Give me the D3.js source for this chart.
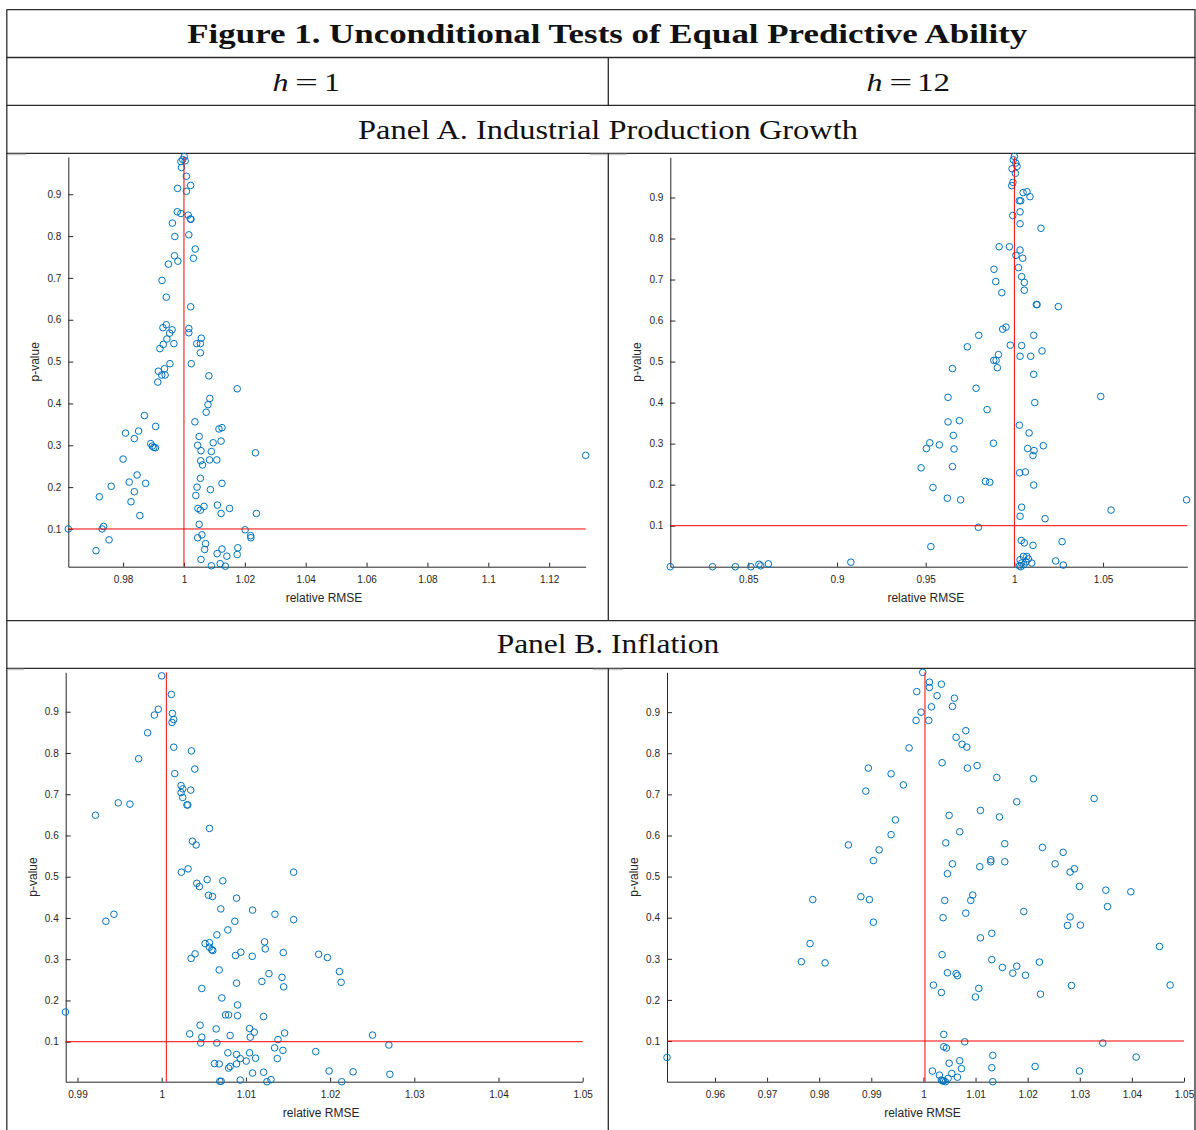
<!DOCTYPE html>
<html>
<head>
<meta charset="utf-8">
<script src="https://cdn.jsdelivr.net/npm/d3@7"></script>
<style>
  body { margin: 0; background: #fff; }
  .tick text { font-family: "Liberation Sans", Arial, sans-serif; font-size: 10px; fill: #262626; }
</style>
</head>
<body>
<svg id="chart" width="1196" height="1130"></svg>
<script>
// [relative RMSE, p-value]
const ipH1 = [
  [1.0001,0.99],[0.9996,0.983],[0.999,0.978],[1.0004,0.980],[0.9992,0.964],[1.0008,0.943],[1.0022,0.921],
  [0.9979,0.914],[1.0008,0.907],[0.9978,0.858],[0.999,0.854],[1.0014,0.850],[1.0021,0.841],[1.0023,0.840],
  [0.9962,0.831],[0.997,0.799],[1.0016,0.803],[1.0037,0.769],[0.9969,0.753],[1.0031,0.747],[0.998,0.740],
  [0.9949,0.733],[0.9928,0.694],[0.9942,0.654],[1.0022,0.631],[0.9931,0.581],[0.9942,0.588],[0.9961,0.576],
  [0.9953,0.568],[0.9944,0.554],[0.9967,0.543],[0.9932,0.541],[0.9921,0.531],[1.0016,0.579],[1.0016,0.569],
  [1.0057,0.556],[1.0042,0.543],[1.0054,0.543],[1.0054,0.521],[1.0024,0.495],[0.9954,0.495],[0.9916,0.477],
  [0.9936,0.483],[0.9927,0.468],[0.9938,0.468],[0.9914,0.451],[1.0082,0.466],[1.0175,0.435],[1.0085,0.412],
  [1.0079,0.397],[1.0073,0.379],[0.987,0.371],[0.9907,0.345],[1.0036,0.356],[1.0115,0.339],[1.0125,0.342],
  [0.9808,0.329],[0.9851,0.334],[0.9837,0.316],[1.005,0.321],[0.9891,0.304],[0.9896,0.298],[0.9906,0.294],
  [0.9901,0.295],[1.0045,0.300],[1.0056,0.287],[1.0096,0.306],[1.0122,0.310],[1.009,0.285],[1.0235,0.282],
  [0.98,0.267],[1.0055,0.263],[1.0084,0.265],[1.0108,0.265],[1.0061,0.253],[0.9846,0.229],[1.0054,0.221],
  [0.982,0.212],[0.9874,0.209],[1.0125,0.209],[0.9761,0.202],[1.0043,0.200],[1.0087,0.194],[0.9837,0.189],
  [0.9722,0.177],[1.0039,0.180],[0.9826,0.165],[1.011,0.157],[1.0066,0.154],[1.0046,0.149],[1.0054,0.145],
  [1.015,0.149],[1.0122,0.137],[1.0238,0.137],[0.9855,0.132],[0.9736,0.106],[0.9731,0.100],[0.962,0.100],
  [1.005,0.111],[1.0201,0.098],[1.0219,0.084],[1.022,0.079],[1.0059,0.086],[1.0045,0.079],[0.9754,0.074],
  [1.0071,0.065],[1.0068,0.051],[0.9711,0.048],[1.0125,0.052],[1.0177,0.055],[1.0109,0.041],[1.0175,0.039],
  [1.0141,0.035],[1.0056,0.027],[1.009,0.012],[1.0119,0.017],[1.0136,0.011],[1.132,0.276]
];

const ipH12 = [
  [0.806,0],[0.8298,0],[0.8427,0],[0.8514,0],[0.856,0.006],[0.857,0.002],[0.8613,0.007],[0.9078,0.011],
  [1.0,1.0],[0.9994,0.992],[1.0008,0.984],[0.9987,0.970],[1.0015,0.976],[1.0006,0.959],[0.9992,0.937],
  [0.9985,0.929],[1.0049,0.912],[1.0071,0.914],[1.0088,0.902],[1.0028,0.892],[1.0036,0.892],[1.0032,0.865],
  [0.9991,0.856],[1.0032,0.836],[1.015,0.825],[0.9914,0.780],[0.9972,0.780],[1.0032,0.772],[1.0009,0.759],
  [1.0047,0.752],[0.9885,0.725],[1.0023,0.729],[1.0041,0.707],[0.9895,0.695],[1.0056,0.693],[1.0056,0.674],
  [0.9929,0.668],[1.0124,0.639],[1.0128,0.639],[1.0248,0.634],[0.9934,0.579],[0.9953,0.584],[0.9799,0.564],
  [1.0109,0.564],[0.9735,0.536],[0.9977,0.540],[1.0041,0.539],[1.0156,0.526],[0.991,0.517],[1.0032,0.513],
  [1.0092,0.513],[0.9884,0.503],[0.9897,0.503],[0.9904,0.485],[0.9651,0.483],[1.0109,0.469],[0.9784,0.435],
  [0.9626,0.413],[1.0487,0.415],[1.0115,0.400],[0.9846,0.383],[0.9626,0.353],[0.969,0.356],[1.0028,0.345],
  [1.0083,0.326],[0.9656,0.320],[0.9523,0.302],[0.9504,0.288],[0.9577,0.297],[0.9882,0.301],[0.966,0.287],
  [1.0163,0.295],[1.0075,0.288],[1.0111,0.283],[1.0105,0.271],[0.9474,0.241],[0.9651,0.244],[1.003,0.229],
  [1.0062,0.231],[0.9837,0.208],[0.9861,0.206],[1.0109,0.199],[0.9541,0.193],[0.9622,0.167],[0.9697,0.163],
  [1.0971,0.163],[1.0545,0.138],[1.0041,0.145],[1.0032,0.123],[1.0173,0.117],[0.9797,0.096],[1.0039,0.064],
  [1.0056,0.058],[1.0105,0.052],[1.0269,0.061],[0.9529,0.049],[1.0233,0.014],[1.0276,0.004],[1.0032,0.017],
  [1.0051,0.025],[1.007,0.025],[1.0079,0.019],[1.0041,0.009],[1.0054,0.005],[1.0028,0.002],[1.0098,0.009],
  [1.0066,0.012],[1.0036,0]
];

const infH1 = [
  [1.0,0.987],[1.00115,0.942],[0.9996,0.906],[0.99913,0.892],[1.00127,0.896],[1.00143,0.881],[1.00123,0.874],
  [0.99833,0.849],[1.00143,0.814],[1.00353,0.805],[0.99726,0.786],[1.00393,0.761],[1.00155,0.750],[1.0023,0.721],
  [1.00345,0.710],[1.0025,0.713],[1.0023,0.704],[1.0025,0.692],[1.003,0.674],[1.0031,0.674],[0.99484,0.679],
  [0.99623,0.676],[0.99214,0.649],[1.00567,0.617],[1.00365,0.586],[1.00409,0.577],[1.00234,0.511],[1.00313,0.519],
  [1.0054,0.493],[1.00726,0.490],[1.00417,0.484],[1.00448,0.476],[1.00556,0.455],[1.00603,0.452],[1.00889,0.448],
  [1.00702,0.422],[1.01079,0.419],[1.01345,0.409],[1.01567,0.511],[1.01567,0.396],[0.99433,0.409],[0.99337,0.392],
  [1.00869,0.392],[1.00655,0.359],[1.00786,0.371],[1.01222,0.342],[1.0123,0.325],[1.00516,0.338],[1.00567,0.340],
  [1.00567,0.329],[1.00595,0.323],[1.00607,0.321],[1.00397,0.313],[1.00349,0.302],[1.0094,0.317],[1.00877,0.309],
  [1.01075,0.307],[1.01444,0.316],[1.00683,0.274],[1.01274,0.265],[1.01429,0.256],[1.0119,0.246],[1.00889,0.242],
  [1.01448,0.233],[1.00476,0.229],[1.00714,0.206],[1.00901,0.189],[1.00758,0.165],[1.00794,0.165],[1.00901,0.163],
  [1.0121,0.161],[0.98857,0.172],[1.00456,0.140],[1.00647,0.131],[1.01044,0.132],[1.011,0.123],[1.00333,0.119],
  [1.00476,0.111],[1.00813,0.115],[1.01052,0.111],[1.0146,0.121],[1.01381,0.105],[1.00464,0.097],[1.00655,0.097],
  [1.01341,0.085],[1.0144,0.079],[1.00786,0.073],[1.00889,0.069],[1.01044,0.073],[1.00933,0.059],[1.01004,0.053],
  [1.01115,0.060],[1.01373,0.059],[1.00627,0.047],[1.00683,0.046],[1.00889,0.046],[1.00813,0.040],[1.00794,0.036],
  [1.01079,0.024],[1.0121,0.026],[1.0069,0.004],[1.00706,0.004],[1.00933,0.007],[1.0125,0.003],[1.01298,0.008],
  [1.01864,0.312],[1.01968,0.304],[1.02111,0.270],[1.02131,0.244],[1.02504,0.116],[1.02698,0.092],[1.01829,0.076],
  [1.01988,0.029],[1.02273,0.027],[1.0271,0.021],[1.02138,0.003]
];

const infH12 = [
  [0.9508,0.060],[0.97658,0.293],[0.97825,0.337],[0.98113,0.290],[0.97877,0.444],[0.9856,0.577],[0.98944,0.764],
  [0.98894,0.708],[0.9938,0.750],[0.99463,0.638],[0.9938,0.602],[0.9915,0.565],[0.9904,0.539],[0.988,0.451],
  [0.98964,0.444],[0.9904,0.389],
  [0.99987,0.997],[1.00115,0.973],[1.00115,0.960],[1.00345,0.968],[0.99872,0.950],[1.00262,0.940],[1.00595,0.934],
  [1.00557,0.914],[1.00154,0.913],[0.99955,0.900],[0.99859,0.880],[1.00102,0.880],[1.00813,0.855],[1.00627,0.839],
  [1.00742,0.822],[1.00832,0.815],[0.99725,0.813],[1.00358,0.777],[1.0103,0.770],[1.00845,0.764],[0.99616,0.723],
  [1.01408,0.741],[1.02111,0.738],[1.03276,0.690],[1.01791,0.682],[1.01094,0.661],[1.00493,0.649],[1.01459,0.645],
  [1.00697,0.609],[1.00429,0.582],[1.01561,0.580],[1.02284,0.571],[1.02681,0.559],[1.01292,0.541],[1.01292,0.536],
  [1.01561,0.536],[1.00557,0.531],[1.01081,0.524],[1.02527,0.531],[1.02898,0.519],[1.02815,0.511],[1.00461,0.507],
  [1.02994,0.476],[1.035,0.467],[1.0398,0.463],[1.00947,0.455],[1.00909,0.442],[1.00409,0.442],[1.03532,0.427],
  [1.00813,0.411],[1.01926,0.415],[1.00377,0.400],[1.02815,0.402],[1.02764,0.381],[1.03013,0.382],[1.01312,0.362],
  [1.01094,0.351],[1.0453,0.330],[1.00358,0.310],[1.01312,0.298],[1.02226,0.292],[1.01516,0.279],[1.01791,0.282],
  [1.00461,0.266],[1.00627,0.264],[1.00653,0.259],[1.01715,0.265],[1.01958,0.260],[1.04734,0.236],[1.02841,0.235],
  [1.00192,0.236],[1.01062,0.228],[1.00345,0.218],[1.02246,0.214],[1.00998,0.207],[1.0039,0.116],[1.00793,0.098],
  [1.03442,0.095],[1.0039,0.086],[1.00441,0.083],[1.01331,0.065],[1.04082,0.061],[1.00697,0.052],[1.00493,0.046],
  [1.00729,0.033],[1.01312,0.035],[1.02143,0.038],[1.02994,0.027],[1.00173,0.027],[1.00544,0.021],[1.00307,0.017],
  [1.00653,0.012],[1.00473,0.009],[1.00345,0.005],[1.0039,0.003],[1.00422,0.001],[1.00365,0.003],[1.01331,0.001]
];

const yTicks = [0.1, 0.2, 0.3, 0.4, 0.5, 0.6, 0.7, 0.8, 0.9];
const xTicksA1 = [0.98, 1, 1.02, 1.04, 1.06, 1.08, 1.1, 1.12];
const xTicksA12 = [0.85, 0.9, 0.95, 1, 1.05];
const xTicksB1 = [0.99, 1, 1.01, 1.02, 1.03, 1.04, 1.05];
const xTicksB12 = [0.96, 0.97, 0.98, 0.99, 1, 1.01, 1.02, 1.03, 1.04, 1.05];
const pCutoff = 0.1;

const svg = d3.select("#chart");
const ink = "#262626";
const serif = '"Liberation Serif", "DejaVu Serif", serif';
const sans = '"Liberation Sans", Arial, sans-serif';

// table frame
const border = "#2b2b2b";
const hLines = [9.7, 57.5, 105.3, 153.3, 620.7, 668.3];
hLines.forEach(y => {
  svg.append("line").attr("x1", 6.5).attr("x2", 1195.5).attr("y1", y).attr("y2", y)
    .attr("stroke", border).attr("stroke-width", 1.3);
});
[[6.8, 9.7, 1130], [1195, 9.7, 1130], [608.3, 57.5, 105.3], [608.3, 153.3, 620.7], [608.3, 668.3, 1130]]
  .forEach(([x, y1, y2]) => {
    svg.append("line").attr("x1", x).attr("x2", x).attr("y1", y1).attr("y2", y2)
      .attr("stroke", border).attr("stroke-width", 1.3);
  });

// faint leftovers at top corners of the figure cells
[[8, 26, 154.5], [590, 607, 154.5], [609, 627, 154.5], [593, 607, 669.5], [609, 623, 669.5], [8, 24, 669.5]]
  .forEach(([x1, x2, y]) => {
    svg.append("line").attr("x1", x1).attr("x2", x2).attr("y1", y).attr("y2", y)
      .attr("stroke", "#c8c8c8").attr("stroke-width", 1.5);
  });

svg.append("text").attr("x", 187.3).attr("y", 43).attr("font-family", serif)
  .attr("font-weight", "bold").attr("font-size", 27).attr("fill", "#111")
  .attr("textLength", 840).attr("lengthAdjust", "spacingAndGlyphs")
  .text("Figure 1. Unconditional Tests of Equal Predictive Ability");

function hLabel(parts) {
  parts.forEach(([txt, x, w, italic]) => {
    svg.append("text").attr("x", x).attr("y", 90.7).attr("font-family", serif)
      .attr("font-size", 25).attr("font-style", italic ? "italic" : "normal").attr("fill", "#111")
      .attr("textLength", w).attr("lengthAdjust", "spacingAndGlyphs").text(txt);
  });
}
hLabel([["h", 272.5, 16, true], ["=", 295, 23, false], ["1", 324, 16, false]]);
hLabel([["h", 866.5, 16, true], ["=", 889.3, 23, false], ["12", 917, 33, false]]);

svg.append("text").attr("x", 358).attr("y", 138.7).attr("font-family", serif)
  .attr("font-size", 27).attr("fill", "#111")
  .attr("textLength", 500).attr("lengthAdjust", "spacingAndGlyphs")
  .text("Panel A. Industrial Production Growth");
svg.append("text").attr("x", 496.7).attr("y", 652.7).attr("font-family", serif)
  .attr("font-size", 27).attr("fill", "#111")
  .attr("textLength", 222.6).attr("lengthAdjust", "spacingAndGlyphs")
  .text("Panel B. Inflation");

const panels = [
  { data: ipH1, left: 68.3, right: 585.7, top: 157, bottom: 566.7,
    xDomain: [0.962, 1.132], yDomain: [0.0098, 0.989], xTicks: xTicksA1, vline: 1.0 },
  { data: ipH12, left: 670.3, right: 1187.3, top: 157.3, bottom: 566.7,
    xDomain: [0.806, 1.0975], yDomain: [0, 0.998], xTicks: xTicksA12, vline: 1.0 },
  { data: infH1, left: 65.7, right: 582.7, top: 672.3, bottom: 1081.7,
    xDomain: [0.9886, 1.05], yDomain: [0.003, 0.9956], xTicks: xTicksB1, vline: 1.00055 },
  { data: infH12, left: 667, right: 1184, top: 672.3, bottom: 1081.7,
    xDomain: [0.9508, 1.05], yDomain: [0.001, 0.997], xTicks: xTicksB12, vline: 1.0003 }
];

panels.forEach(p => {
  const x = d3.scaleLinear().domain(p.xDomain).range([p.left, p.right]);
  const y = d3.scaleLinear().domain(p.yDomain).range([p.bottom, p.top]);
  const g = svg.append("g");
  const fmt = d => String(+d.toFixed(3));

  const ax = g.append("g").attr("transform", `translate(0,${p.bottom})`)
    .call(d3.axisBottom(x).tickValues(p.xTicks).tickFormat(fmt).tickSize(-4).tickSizeOuter(0).tickPadding(9.5));
  const ay = g.append("g").attr("transform", `translate(${p.left},0)`)
    .call(d3.axisLeft(y).tickValues(yTicks).tickFormat(fmt).tickSize(-5).tickSizeOuter(0).tickPadding(7));
  [ax, ay].forEach(a => {
    a.select(".domain").attr("stroke", ink).attr("stroke-width", 1);
    a.selectAll(".tick line").attr("stroke", ink);
    a.attr("font-family", null).attr("font-size", null);
  });

  g.append("text").attr("transform", `translate(${p.left - 29},${(p.top + p.bottom) / 2}) rotate(-90)`)
    .attr("text-anchor", "middle").attr("font-family", sans)
    .attr("font-size", 12).attr("fill", ink).text("p-value");
  g.append("text").attr("x", (p.left + p.right) / 2 - 3).attr("y", p.bottom + 35)
    .attr("text-anchor", "middle").attr("font-family", sans)
    .attr("font-size", 12).attr("fill", ink).text("relative RMSE");

  g.append("g").selectAll("circle").data(p.data).enter().append("circle")
    .attr("cx", d => x(d[0])).attr("cy", d => y(d[1])).attr("r", 3.3)
    .attr("fill", "none").attr("stroke", "#0072BD").attr("stroke-width", 1);

  g.append("line").attr("x1", p.left).attr("x2", p.right).attr("y1", y(pCutoff)).attr("y2", y(pCutoff))
    .attr("stroke", "#ff0000").attr("stroke-width", 1);
  g.append("line").attr("x1", x(p.vline)).attr("x2", x(p.vline)).attr("y1", p.bottom).attr("y2", p.top)
    .attr("stroke", "#ff0000").attr("stroke-width", 1);
});
</script>
</body>
</html>
